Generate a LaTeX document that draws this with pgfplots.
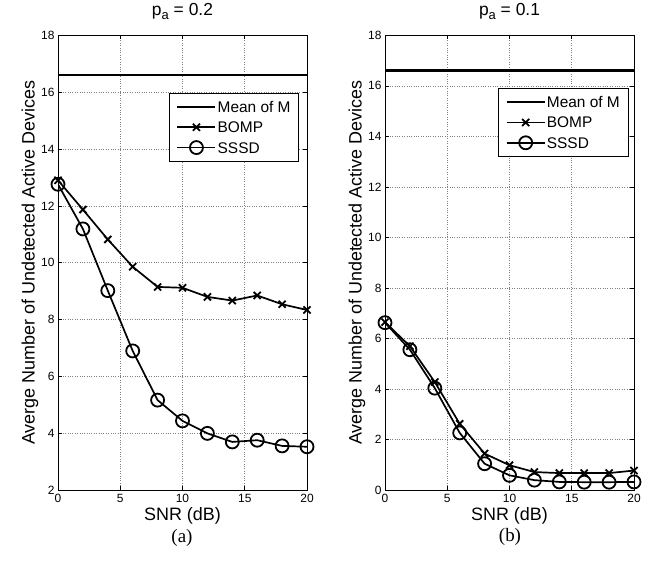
\documentclass[border=0pt]{standalone}
\usepackage{fontspec}
\setmainfont{Liberation Sans}
\newfontfamily\timesfont{Liberation Serif}
\usepackage{pgfplots}
\pgfplotsset{compat=1.18}
\pgfplotsset{
 mystyle/.style={
  scale only axis, width=249bp, height=455bp, anchor=south west,
  xmin=0, xmax=20, xtick={0,5,10,15,20},
  grid=major, grid style={dotted, black!50, line width=0.6bp},
  tick align=inside, major tick length=4bp,
  axis line style={line width=1bp},
  tick style={black, line width=0.6bp},
  /pgf/number format/assume math mode=true,
  tick label style={font=\fontsize{12}{12}\selectfont},
  label style={font=\fontsize{18}{18}\selectfont},
  title style={font=\fontsize{17.5}{18}\selectfont, at={(0.5,1)}, anchor=south, yshift=6bp},
  xlabel={SNR (dB)},
  ylabel={Averge Number of Undetected Active Devices},
  xlabel style={yshift=2bp},
  ylabel style={yshift=-4bp},
  legend style={font=\fontsize{15.5}{15.5}\selectfont, anchor=north west, draw=black,
     inner sep=7bp, row sep=7.3bp, column sep=0bp,
     nodes={inner sep=1bp, text height=11bp, text depth=0bp}},
  legend cell align=left,
  legend image code/.code={\draw[mark repeat=2, mark phase=2, ##1] plot coordinates {(0bp,0bp) (19bp,0bp) (38bp,0bp)};},
 },
 meanst/.style={black, line width=2.4bp, no markers},
 bompst/.style={black, line width=1.7bp, mark=x, mark size=5bp, mark options={line width=1.8bp}},
 sssdst/.style={black, line width=1.7bp, mark=o, mark size=6.5bp, mark options={line width=1.8bp}},
}
\begin{document}
\begin{tikzpicture}
\path (0bp,0bp) rectangle (663bp,561bp);
\begin{axis}[mystyle, at={(58bp,71bp)}, ymin=2, ymax=18, ytick={2,4,...,18},
  title={p\raisebox{-0.45ex}{\fontsize{13}{13}\selectfont a} = 0.2},
  legend style={at={(0.446,0.8725)}}]
\addplot[meanst] coordinates {(0,16.6) (20,16.6)};
\addlegendentry{Mean of M}
\addplot[bompst] coordinates {(0,12.9) (2,11.87) (4,10.82) (6,9.86) (8,9.15) (10,9.12) (12,8.8) (14,8.67) (16,8.85) (18,8.54) (20,8.34)};
\addlegendentry{BOMP}
\addplot[sssdst] coordinates {(0,12.76) (2,11.19) (4,9.02) (6,6.9) (8,5.17) (10,4.44) (12,4.0) (14,3.7) (16,3.76) (18,3.56) (20,3.53)};
\addlegendentry{SSSD}
\end{axis}
\begin{axis}[mystyle, at={(385bp,71bp)}, ymin=0, ymax=18, ytick={0,2,...,18},
  title={p\raisebox{-0.45ex}{\fontsize{13}{13}\selectfont a} = 0.1},
  legend style={at={(0.455,0.883)}}]
\addplot[meanst] coordinates {(0,16.6) (20,16.6)};
\addlegendentry{Mean of M}
\addplot[bompst] coordinates {(0,6.65) (2,5.7) (4,4.28) (6,2.63) (8,1.45) (10,0.99) (12,0.72) (14,0.68) (16,0.68) (18,0.68) (20,0.78)};
\addlegendentry{BOMP}
\addplot[sssdst] coordinates {(0,6.63) (2,5.56) (4,4.04) (6,2.27) (8,1.05) (10,0.59) (12,0.4) (14,0.33) (16,0.32) (18,0.32) (20,0.33)};
\addlegendentry{SSSD}
\end{axis}
\node[font=\timesfont\fontsize{19}{19}\selectfont] at (182bp,23bp) {(a)};
\node[font=\timesfont\fontsize{19}{19}\selectfont] at (510bp,24bp) {(b)};
\end{tikzpicture}
\end{document}
